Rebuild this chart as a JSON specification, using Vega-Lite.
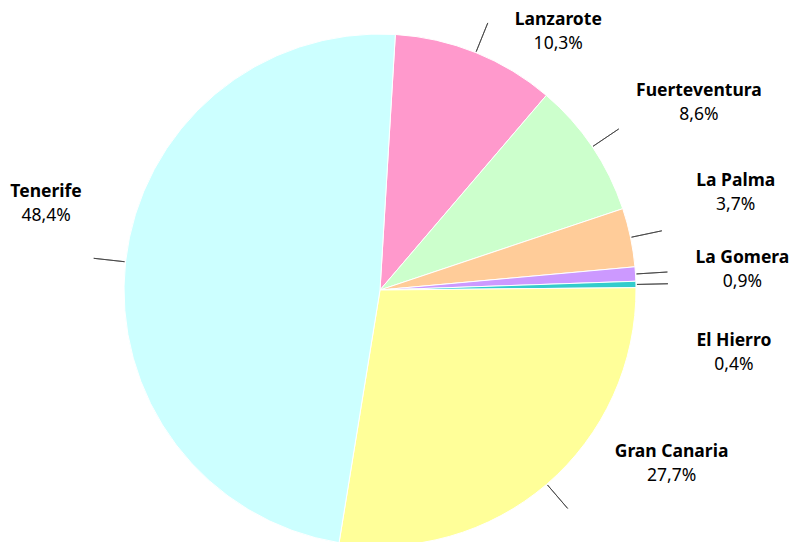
{
  "$schema": "https://vega.github.io/schema/vega-lite/v6.json",
  "width": 760,
  "height": 580,
  "autosize": {"type": "none"},
  "padding": {"left": 0, "top": 0, "right": 31, "bottom": 0},
  "background": "white",
  "config": {"view": {"stroke": null}},
  "data": {"values": [
    {"island": "Lanzarote", "pct": 10.3, "label": "10,3%", "idx": 1},
    {"island": "Fuerteventura", "pct": 8.6, "label": "8,6%", "idx": 2},
    {"island": "La Palma", "pct": 3.7, "label": "3,7%", "idx": 3},
    {"island": "La Gomera", "pct": 0.9, "label": "0,9%", "idx": 4},
    {"island": "El Hierro", "pct": 0.4, "label": "0,4%", "idx": 5},
    {"island": "Gran Canaria", "pct": 27.7, "label": "27,7%", "idx": 6},
    {"island": "Tenerife", "pct": 48.4, "label": "48,4%", "idx": 7}
  ]},
  "encoding": {
    "theta": {"field": "pct", "type": "quantitative", "stack": true, "scale": {"range": [0.06, 6.3432]}},
    "order": {"field": "idx", "type": "quantitative"}
  },
  "layer": [
    {
      "mark": {"type": "arc", "outerRadius": 256, "stroke": "white", "strokeWidth": 1},
      "encoding": {
        "color": {"field": "island", "type": "nominal", "legend": null,
          "scale": {"domain": ["Lanzarote", "Fuerteventura", "La Palma", "La Gomera", "El Hierro", "Gran Canaria", "Tenerife"],
                    "range": ["#FF99CC", "#CCFFCC", "#FFCC99", "#CC99FF", "#33CCCC", "#FFFF99", "#CCFFFF"]}}
      }
    },
    {
      "mark": {"type": "arc", "innerRadius": 257, "outerRadius": 288, "padAngle": 3, "fill": null, "fillOpacity": 0, "stroke": "#404040", "strokeWidth": 0.8}
    },
    {
      "mark": {"type": "text", "radius": 340, "font": "Noto Sans", "fontWeight": "bold", "fontSize": 17.5, "fill": "black",
        "dx": {"expr": "datum.island === 'Lanzarote' ? 51 : datum.island === 'Fuerteventura' ? 37 : datum.island === 'La Palma' ? 23 : datum.island === 'La Gomera' ? 23 : datum.island === 'El Hierro' ? 14 : datum.island === 'Gran Canaria' ? 70 : 4"},
        "dy": {"expr": "(datum.island === 'Lanzarote' ? 57.5 : datum.island === 'Fuerteventura' ? 3.6 : datum.island === 'La Palma' ? -27.5 : datum.island === 'La Gomera' ? 1.4 : datum.island === 'El Hierro' ? 70 : datum.island === 'Gran Canaria' ? -83.6 : -49) - 12"}},
      "encoding": {"text": {"field": "island"}}
    },
    {
      "mark": {"type": "text", "radius": 340, "font": "Noto Sans", "fontSize": 17.5, "fill": "black",
        "dx": {"expr": "datum.island === 'Lanzarote' ? 51 : datum.island === 'Fuerteventura' ? 37 : datum.island === 'La Palma' ? 23 : datum.island === 'La Gomera' ? 23 : datum.island === 'El Hierro' ? 14 : datum.island === 'Gran Canaria' ? 70 : 4"},
        "dy": {"expr": "(datum.island === 'Lanzarote' ? 57.5 : datum.island === 'Fuerteventura' ? 3.6 : datum.island === 'La Palma' ? -27.5 : datum.island === 'La Gomera' ? 1.4 : datum.island === 'El Hierro' ? 70 : datum.island === 'Gran Canaria' ? -83.6 : -49) + 12"}},
      "encoding": {"text": {"field": "label"}}
    }
  ]
}
